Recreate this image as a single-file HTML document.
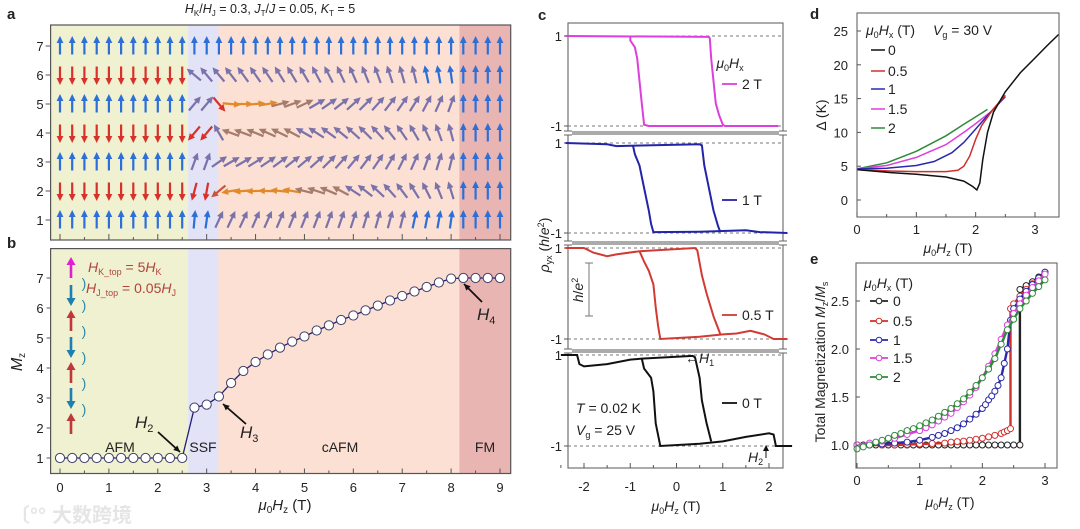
<!DOCTYPE html>
<html><head><meta charset="utf-8">
<style>
html,body{margin:0;padding:0;background:#fff;}
svg{display:block;font-family:"Liberation Sans","Noto Sans CJK SC",sans-serif;}
text{fill:#222;}
</style></head>
<body>
<svg id="fig" width="1080" height="529" viewBox="0 0 1080 529" xmlns="http://www.w3.org/2000/svg">
<rect x="0" y="0" width="1080" height="529" fill="#fff"/>
<g id="pa"></g>
<g id="pb"></g>
<g id="pc"></g>
<g id="pd"></g>
<g id="pe"></g>
<text x="270" y="13" font-size="12.5" text-anchor="middle"><tspan font-style="italic">H</tspan><tspan font-size="8" dy="3">K</tspan><tspan dy="-3">/</tspan><tspan font-style="italic">H</tspan><tspan font-size="8" dy="3">J</tspan><tspan dy="-3"> = 0.3, </tspan><tspan font-style="italic">J</tspan><tspan font-size="8" dy="3">T</tspan><tspan dy="-3">/</tspan><tspan font-style="italic">J</tspan><tspan> = 0.05, </tspan><tspan font-style="italic">K</tspan><tspan font-size="8" dy="3">T</tspan><tspan dy="-3"> = 5</tspan></text>
<text x="7" y="19" font-size="15" font-weight="bold">a</text>
<text x="7" y="248" font-size="15" font-weight="bold">b</text>
<text x="538" y="20" font-size="15" font-weight="bold">c</text>
<text x="810" y="19" font-size="15" font-weight="bold">d</text>
<text x="810" y="264" font-size="15" font-weight="bold">e</text>
<g opacity="0.55">
<text x="10" y="522" font-size="20" style="fill:#d0d0d0" font-weight="bold">〔°°</text>
<text x="52" y="522" font-size="20" style="fill:#d0d0d0" font-weight="bold">大数跨境</text>
</g>
</svg>
<script>
const NS="http://www.w3.org/2000/svg";
function mk(tag,parent,attrs){const e=document.createElementNS(NS,tag);for(const k in attrs)e.setAttribute(k,attrs[k]);parent.appendChild(e);return e;}
function lin(d0,d1,r0,r1){return v=>r0+(v-d0)*(r1-r0)/(d1-d0);}
function pathD(xs,ys,sx,sy){return xs.map((x,i)=>(i?'L':'M')+sx(x).toFixed(1)+' '+sy(ys[i]).toFixed(1)).join(' ');}
function txt(parent,x,y,s,size,anchor){const t=mk('text',parent,{x:x,y:y,'font-size':size||13,'text-anchor':anchor||'middle'});t.textContent=s;return t;}

const regionNames=['AFM','SSF','cAFM','FM'];
const regionStarts=[-0.2,2.62,3.24,8.17];
const regionEnds=[2.62,3.24,8.17,9.22];
const regionColors=['#eff1d0','#e2e3f6','#fbe0d3','#e9b5b2'];

const aFields=[0,0.25,0.5,0.75,1,1.25,1.5,1.75,2,2.25,2.5,2.75,3,3.25,3.5,3.75,4,4.25,4.5,4.75,5,5.25,5.5,5.75,6,6.25,6.5,6.75,7,7.25,7.5,7.75,8,8.25,8.5,8.75,9];
const aLayers=[1,2,3,4,5,6,7];
const angL1=[0,0,0,0,0,0,0,0,0,0,0,5,8,25,25,25,24,24,23,22,22,21,20,19,18,17,16,15,14,12,11,10,8,0,0,0,0];
const angL2=[180,180,180,180,180,180,180,180,180,180,180,-165,-170,-130,-100,-95,-92,-88,-84,-80,-76,-72,-67,-62,-57,-52,-47,-42,-37,-32,-27,-22,-17,0,0,0,0];
const angL3=[0,0,0,0,0,0,0,0,0,0,0,20,20,55,60,60,58,56,54,52,50,48,45,42,40,37,34,30,27,24,20,17,14,0,0,0,0];
const angL4=[180,180,180,180,180,180,180,180,180,180,180,-140,-140,-30,-70,-70,-68,-66,-64,-62,-60,-57,-54,-51,-48,-45,-42,-38,-34,-30,-25,-20,-15,0,0,0,0];
const angL5=[0,0,0,0,0,0,0,0,0,0,0,40,40,140,95,90,85,80,75,70,65,60,55,52,48,45,42,38,35,32,28,24,20,0,0,0,0];
const angL6=[180,180,180,180,180,180,180,180,180,180,180,-50,-40,-40,-38,-36,-35,-34,-32,-31,-30,-28,-27,-25,-24,-22,-20,-18,-16,-14,-12,-10,-8,0,0,0,0];
const angL7=[0,0,0,0,0,0,0,0,0,0,0,0,0,0,0,0,0,0,0,0,0,0,0,0,0,0,0,0,0,0,0,0,0,0,0,0,0];
const aAngles=[angL1,angL2,angL3,angL4,angL5,angL6,angL7];
const aYTicks=[1,2,3,4,5,6,7];

(function(){
const g=document.getElementById('pa');
const L=50.6,R=510.7,T=25,B=240;
const sx=lin(0,9,60,500), sy=lin(1,7,220,46);
for(let i=0;i<regionNames.length;i++){
  const r=mk('rect',g,{x:sx(regionStarts[i]),y:T,width:sx(regionEnds[i])-sx(regionStarts[i]),height:B-T,fill:regionColors[i]});
  
  
}
function col(a){const b=Math.abs(a);
  if(b<=12)return '#2d6fd8'; if(b>=135)return '#d8312b'; if(b>=78&&b<=112)return '#e28a2a';
  if(b>112)return '#c8553a'; if(b>=62)return '#a57b6c'; return '#7a72ab';}
aLayers.forEach((ly,li)=>{
  aFields.forEach((h,ci)=>{
    const a=aAngles[li][ci];
    const c=col(a);
    const ar=mk('g',g,{transform:`translate(${sx(h).toFixed(1)},${sy(ly).toFixed(1)}) rotate(${a})`});
    
    
    mk('line',ar,{x1:0,y1:8.5,x2:0,y2:-4,stroke:c,'stroke-width':2.2});
    mk('polygon',ar,{points:'-3.4,-3 3.4,-3 0,-10',fill:c});
  });
});
mk('rect',g,{x:L,y:T,width:R-L,height:B-T,fill:'none',stroke:'#555','stroke-width':1.2});
aYTicks.forEach(v=>{
  mk('line',g,{x1:L-5,x2:L,y1:sy(v),y2:sy(v),stroke:'#555'});
  const t=txt(g,40,sy(v)+5,String(v),13);
  
  
});
for(let v=0;v<=9;v+=0.5){mk('line',g,{x1:sx(v),x2:sx(v),y1:B,y2:B-(v%1===0?6:3),stroke:'#555'});}
})();

const bFields=[0,0.25,0.5,0.75,1,1.25,1.5,1.75,2,2.25,2.5,2.75,3,3.25,3.5,3.75,4,4.25,4.5,4.75,5,5.25,5.5,5.75,6,6.25,6.5,6.75,7,7.25,7.5,7.75,8,8.25,8.5,8.75,9];
const bMz=[1,1,1,1,1,1,1,1,1,1,1,2.68,2.78,3.05,3.5,3.9,4.2,4.45,4.68,4.88,5.05,5.25,5.42,5.6,5.75,5.92,6.08,6.25,6.4,6.55,6.7,6.85,6.98,7,7,7,7];
const bXTicks=[0,1,2,3,4,5,6,7,8,9];
const bYTicks=[1,2,3,4,5,6,7];
(function(){
const g=document.getElementById('pb');
const L=50.6,R=510.7,T=248.6,B=473.5;
const sx=lin(0,9,60,500), sy=lin(1,7,458,278);
for(let i=0;i<regionNames.length;i++){
  const r=mk('rect',g,{x:sx(regionStarts[i]),y:T,width:sx(regionEnds[i])-sx(regionStarts[i]),height:B-T,fill:regionColors[i]});
  
  
}
const stackY=[268,295,321,347,373,398,424];
const stackDir=[1,-1,1,-1,1,-1,1];
const stackCol=['#e020d0','#1f7fb0','#c0383a','#1f7fb0','#c0383a','#1f7fb0','#c0383a'];
stackY.forEach((y,i)=>{
  const a=mk('g',g,{transform:`translate(71,${y}) rotate(${stackDir[i]>0?0:180})`});
  
  
  mk('line',a,{x1:0,y1:10,x2:0,y2:-4,stroke:stackCol[i],'stroke-width':2.6});
  mk('polygon',a,{points:'-4.5,-3 4.5,-3 0,-11',fill:stackCol[i]});
});
[283,305,331,357,383,409].forEach(y=>{const t=txt(g,84,y+5,')',14,'middle');t.setAttribute('style','fill:#2a8aa8');});
const h1=mk('text',g,{x:88,y:272,'font-size':14});h1.setAttribute('style','fill:#b0443e');
h1.innerHTML='<tspan font-style="italic">H</tspan><tspan font-size="9" dy="3">K_top</tspan><tspan dy="-3"> = 5</tspan><tspan font-style="italic">H</tspan><tspan font-size="9" dy="3">K</tspan>';

const h2=mk('text',g,{x:86,y:293,'font-size':14});h2.setAttribute('style','fill:#b0443e');
h2.innerHTML='<tspan font-style="italic">H</tspan><tspan font-size="9" dy="3">J_top</tspan><tspan dy="-3"> = 0.05</tspan><tspan font-style="italic">H</tspan><tspan font-size="9" dy="3">J</tspan>';

const ln=mk('path',g,{d:pathD(bFields,bMz,sx,sy),fill:'none',stroke:'#20207a','stroke-width':1.3});


bFields.forEach((h,i)=>{
  const c=mk('circle',g,{cx:sx(h),cy:sy(bMz[i]),r:4.6,fill:'#fff',stroke:'#40406a','stroke-width':1});
  
  
});
[['AFM',120,452],['SSF',203,452],['cAFM',340,452],['FM',485,452]].forEach(p=>{const t=txt(g,p[1],p[2],p[0],14);});
function arrow(x1,y1,x2,y2){mk('line',g,{x1:x1,y1:y1,x2:x2,y2:y2,stroke:'#111','stroke-width':1.8});
  const a=Math.atan2(y2-y1,x2-x1),s=7;
  mk('polygon',g,{points:`${x2},${y2} ${x2-s*Math.cos(a-0.45)},${y2-s*Math.sin(a-0.45)} ${x2-s*Math.cos(a+0.45)},${y2-s*Math.sin(a+0.45)}`,fill:'#111'});}
function hlab(x,y,n){const t=mk('text',g,{x:x,y:y,'font-size':17});t.innerHTML='<tspan font-style="italic">H</tspan><tspan font-size="11" dy="4">'+n+'</tspan>';}
hlab(135,428,2);arrow(158,432,180,452);
hlab(240,438,3);arrow(246,424,223,404);
hlab(477,320,4);arrow(482,302,464,284);
mk('rect',g,{x:L,y:T,width:R-L,height:B-T,fill:'none',stroke:'#555','stroke-width':1.2});
bYTicks.forEach(v=>{mk('line',g,{x1:L-4,x2:L,y1:sy(v),y2:sy(v),stroke:'#555'});
  const t=txt(g,40,sy(v)+5,String(v),13);});
for(let v=0;v<=9;v+=0.5){mk('line',g,{x1:sx(v),x2:sx(v),y1:B,y2:B-(v%1===0?5:3),stroke:'#555'});}
bXTicks.forEach(v=>{const t=txt(g,sx(v),492,String(v),13);});
const xt=mk('text',g,{x:285,y:510,'font-size':15,'text-anchor':'middle'});
xt.innerHTML='<tspan font-style="italic">μ</tspan><tspan font-size="10" dy="3">0</tspan><tspan font-style="italic" dy="-3">H</tspan><tspan font-size="10" dy="3">z</tspan><tspan dy="-3"> (T)</tspan>';

const yt=mk('text',g,{x:0,y:0,'font-size':16,'text-anchor':'middle',transform:'translate(22,362) rotate(-90)'});
yt.innerHTML='<tspan font-style="italic">M</tspan><tspan font-size="10" dy="3">z</tspan>';

})();

const cXTicks=[-2,-1,0,1,2];
const cLabels=['2 T','1 T','0.5 T','0 T'];
const cColors=['#dd3fdd','#2424a8','#d23a34','#111111'];
const c2H_a=[-2.4,0.7,0.72,0.75,0.8,0.85,0.92,1.0,1.05,2.2];
const c2R_a=[1.0,0.98,0.95,0.5,0.0,-0.5,-0.75,-0.97,-1.0,-1.0];
const c2H_b=[-1.0,-1.0,-0.9,-0.85,-0.8,-0.75,-0.7,-0.6,1.0];
const c2R_b=[1.0,0.9,0.75,0.5,0.0,-0.5,-0.97,-1.0,-1.0];
const c1H_a=[-2.4,-1.5,-1.3,-1.0,0.5,0.55,0.6,0.7,0.8,0.9,0.95];
const c1R_a=[1.0,0.97,0.93,0.94,0.97,0.95,0.5,0.0,-0.5,-0.85,-0.98];
const c1H_b=[-0.94,-0.9,-0.8,-0.7,-0.6,-0.55,-0.5,0.5,1.5,1.8,2.4];
const c1R_b=[0.94,0.75,0.5,0.0,-0.5,-0.8,-0.98,-0.97,-0.94,-0.98,-1.0];
const c05H_a=[-2.4,-2.0,-1.8,-1.5,-1.3,-0.8,0.4,0.45,0.55,0.65,0.8,0.95];
const c05R_a=[1.0,1.0,0.9,0.82,0.86,0.93,1.0,0.95,0.4,0.0,-0.5,-0.9];
const c05H_b=[-0.8,-0.7,-0.6,-0.5,-0.45,-0.4,-0.35,0.5,1.0,1.3,1.6,1.9,2.1,2.4];
const c05R_b=[0.93,0.7,0.5,0.2,-0.3,-0.7,-1.0,-0.95,-0.9,-0.88,-0.82,-0.9,-1.0,-1.0];
const c0H_a=[-2.5,-2.15,-2.1,-2.0,-1.5,-1.0,-0.75,0.35,0.4,0.5,0.55,0.65,0.75];
const c0R_a=[1.0,1.0,0.8,0.75,0.8,0.9,0.92,0.98,0.95,0.5,0.0,-0.5,-0.9];
const c0H_b=[-0.75,-0.7,-0.55,-0.5,-0.45,-0.35,0.5,1.0,1.5,2.0,2.1,2.15,2.5];
const c0R_b=[0.92,0.7,0.5,0.2,-0.5,-1.0,-0.95,-0.9,-0.8,-0.72,-0.75,-1.0,-1.0];
const cH=[[c2H_a,c2H_b],[c1H_a,c1H_b],[c05H_a,c05H_b],[c0H_a,c0H_b]];
const cR=[[c2R_a,c2R_b],[c1R_a,c1R_b],[c05R_a,c05R_b],[c0R_a,c0R_b]];
(function(){
const g=document.getElementById('pc');
const L=568,R=783;
const sx=lin(-2,2,584,769);
const subs=[{t:23,b:132,p:36,m:126,ly:84},{t:134,b:242,p:143,m:233,ly:200},{t:244,b:350,p:248,m:339,ly:315},{t:352,b:468,p:355,m:446,ly:403}];
subs.forEach((s,i)=>{
  const sy=lin(-1,1,s.m,s.p);
  const box=mk('rect',g,{x:L,y:s.t,width:R-L,height:s.b-s.t,fill:'none',stroke:'#666','stroke-width':1.1});
  
  [1,-1].forEach(v=>{
    mk('line',g,{x1:L,x2:R,y1:sy(v),y2:sy(v),stroke:'#777','stroke-width':0.9,'stroke-dasharray':'3,3'});
    mk('line',g,{x1:L-4,x2:L,y1:sy(v),y2:sy(v),stroke:'#555'});
    const t=txt(g,L-6,sy(v)+5,v>0?'1':'-1',13,'end');
  });
  cH[i].forEach((hs,k)=>{
    const p=mk('path',g,{d:pathD(hs,cR[i][k],sx,sy),fill:'none',stroke:cColors[i],'stroke-width':2});
    
    
  });
  mk('line',g,{x1:722,x2:737,y1:s.ly,y2:s.ly,stroke:cColors[i],'stroke-width':1.8});
  const lt=txt(g,742,s.ly+5,cLabels[i],14,'start');
  
});
[133,243,351].forEach(y=>{[L,R].forEach(x=>{mk('rect',g,{x:x-4,y:y-1.5,width:8,height:3,fill:'#fff'});
  mk('line',g,{x1:x-4,x2:x+4,y1:y-2,y2:y-2,stroke:'#666'});mk('line',g,{x1:x-4,x2:x+4,y1:y+2,y2:y+2,stroke:'#666'});});});
const leg=mk('text',g,{x:730,y:68,'font-size':14,'text-anchor':'middle'});
leg.innerHTML='<tspan font-style="italic">μ</tspan><tspan font-size="9" dy="3">0</tspan><tspan font-style="italic" dy="-3">H</tspan><tspan font-size="9" dy="3">x</tspan>';

mk('line',g,{x1:589,x2:589,y1:263,y2:316,stroke:'#777'});
mk('line',g,{x1:585,x2:593,y1:263,y2:263,stroke:'#777'});
mk('line',g,{x1:585,x2:593,y1:316,y2:316,stroke:'#777'});
const sb=mk('text',g,{x:0,y:0,'font-size':14,'text-anchor':'middle',transform:'translate(583,290) rotate(-90)'});
sb.innerHTML='<tspan font-style="italic">h</tspan>/<tspan font-style="italic">e</tspan><tspan font-size="9" dy="-5">2</tspan>';

const h1=mk('text',g,{x:685,y:363,'font-size':14});h1.innerHTML='←<tspan font-style="italic">H</tspan><tspan font-size="9" dy="3">1</tspan>';

const h2=mk('text',g,{x:748,y:462,'font-size':14});h2.innerHTML='<tspan font-style="italic">H</tspan><tspan font-size="9" dy="3">2</tspan>';

mk('line',g,{x1:766,x2:766,y1:458,y2:447,stroke:'#111'});
mk('polygon',g,{points:'766,445 763,451 769,451',fill:'#111'});
const tt=mk('text',g,{x:576,y:413,'font-size':14});tt.innerHTML='<tspan font-style="italic">T</tspan> = 0.02 K';

const vg=mk('text',g,{x:576,y:435,'font-size':14});vg.innerHTML='<tspan font-style="italic">V</tspan><tspan font-size="9" dy="3">g</tspan><tspan dy="-3"> = 25 V</tspan>';

for(let v=-2.5;v<=2.3;v+=0.5){mk('line',g,{x1:sx(v),x2:sx(v),y1:468,y2:468-(v%1===0?5:3),stroke:'#555'});}
cXTicks.forEach(v=>{const t=txt(g,sx(v),491,String(v),13);});
const xt=mk('text',g,{x:676,y:511,'font-size':14,'text-anchor':'middle'});
xt.innerHTML='<tspan font-style="italic">μ</tspan><tspan font-size="9" dy="3">0</tspan><tspan font-style="italic" dy="-3">H</tspan><tspan font-size="9" dy="3">z</tspan><tspan dy="-3"> (T)</tspan>';

const yt=mk('text',g,{x:0,y:0,'font-size':14,'text-anchor':'middle',transform:'translate(549,245) rotate(-90)'});
yt.innerHTML='<tspan font-style="italic">ρ</tspan><tspan font-size="9" dy="3">yx</tspan><tspan dy="-3"> (</tspan><tspan font-style="italic">h</tspan>/<tspan font-style="italic">e</tspan><tspan font-size="9" dy="-5">2</tspan><tspan dy="5">)</tspan>';

})();

const dLabels=['0','0.5','1','1.5','2'];
const dColors=['#111111','#d0302c','#2a2aa8','#dd3fdd','#2f8a3a'];
const d0H=[0,0.5,1,1.5,1.8,1.95,2.02,2.07,2.12,2.2,2.3,2.5,2.75,3,3.2,3.4];
const d0V=[4.5,4.1,3.8,3.4,2.8,2.0,1.5,2.5,6,10,13,16,18.8,21,22.8,24.5];
const d05H=[0,0.5,1,1.5,1.7,1.8,1.9,2.0,2.1,2.3,2.5];
const d05V=[4.5,4.3,4.2,4.2,4.4,5,6.5,9,11,13.5,15.5];
const d1H=[0,0.5,1,1.3,1.6,1.8,2.0,2.2,2.5];
const d1V=[4.6,4.7,5.1,5.7,7,8.5,10.5,12.5,15.3];
const d15H=[0,0.5,1,1.5,1.8,2.0,2.25,2.5];
const d15V=[4.6,5.1,6.3,8.2,10,11.3,13,15.3];
const d2H=[0,0.5,1,1.5,1.8,2.0,2.2];
const d2V=[4.6,5.5,7.2,9.5,11.2,12.3,13.4];
const dXs=[d0H,d05H,d1H,d15H,d2H];
const dYs=[d0V,d05V,d1V,d15V,d2V];
const dXTicks=[0,1,2,3];
const dYTicks=[0,5,10,15,20,25];
(function(){
const g=document.getElementById('pd');
const L=857,R=1059,T=13,B=217;
const sx=lin(0,3,857,1035), sy=lin(0,25,200,31);
for(let i=dXs.length-1;i>=0;i--){
  const p=mk('path',g,{d:pathD(dXs[i],dYs[i],sx,sy),fill:'none',stroke:dColors[i],'stroke-width':1.5});
  
  
}
mk('rect',g,{x:L,y:T,width:R-L,height:B-T,fill:'none',stroke:'#666','stroke-width':1.1});
const leg=mk('text',g,{x:866,y:35,'font-size':14});
leg.innerHTML='<tspan font-style="italic">μ</tspan><tspan font-size="9" dy="3">0</tspan><tspan font-style="italic" dy="-3">H</tspan><tspan font-size="9" dy="3">x</tspan><tspan dy="-3"> (T)</tspan>';

const vg=mk('text',g,{x:933,y:35,'font-size':14});vg.innerHTML='<tspan font-style="italic">V</tspan><tspan font-size="9" dy="3">g</tspan><tspan dy="-3"> = 30 V</tspan>';

const ly=[50,71,89,109,128];
dLabels.forEach((l,i)=>{mk('line',g,{x1:871,x2:885,y1:ly[i],y2:ly[i],stroke:dColors[i],'stroke-width':1.5});
  const t=txt(g,888,ly[i]+5,l,14,'start');});
dYTicks.forEach(v=>{mk('line',g,{x1:L,x2:L+4,y1:sy(v),y2:sy(v),stroke:'#555'});
  const t=txt(g,848,sy(v)+5,String(v),13,'end');});
for(let v=0;v<=3.4;v+=0.5){mk('line',g,{x1:sx(v),x2:sx(v),y1:B,y2:B-(v%1===0?5:3),stroke:'#555'});}
dXTicks.forEach(v=>{const t=txt(g,sx(v),234,String(v),13);});
const xt=mk('text',g,{x:948,y:253,'font-size':14,'text-anchor':'middle'});
xt.innerHTML='<tspan font-style="italic">μ</tspan><tspan font-size="9" dy="3">0</tspan><tspan font-style="italic" dy="-3">H</tspan><tspan font-size="9" dy="3">z</tspan><tspan dy="-3"> (T)</tspan>';

const yt=mk('text',g,{x:0,y:0,'font-size':14,'text-anchor':'middle',transform:'translate(826,115) rotate(-90)'});
yt.textContent='Δ (K)';

})();

const eLabels=['0','0.5','1','1.5','2'];
const eColors=['#222222','#d0302c','#2a2aa8','#dd3fdd','#2f8a3a'];
const e0H=[0,0.1,0.2,0.3,0.4,0.5,0.6,0.7,0.8,0.9,1.0,1.1,1.2,1.3,1.4,1.5,1.6,1.7,1.8,1.9,2.0,2.1,2.2,2.3,2.4,2.5,2.6,2.6,2.7,2.8,2.9,3.0];
const e0M=[1,1,1,1,1,1,1,1,1,1,1,1,1,1,1,1,1,1,1,1,1,1,1,1,1,1,1,2.62,2.66,2.7,2.75,2.8];
const e05H=[0,0.2,0.4,0.6,0.8,1.0,1.2,1.4,1.5,1.6,1.7,1.8,1.9,2.0,2.1,2.2,2.3,2.35,2.4,2.45,2.45,2.5,2.6,2.7,2.8,2.9,3.0];
const e05M=[1,1,1,1,1.005,1.01,1.015,1.02,1.03,1.035,1.04,1.05,1.06,1.07,1.085,1.1,1.12,1.135,1.15,1.17,2.42,2.47,2.55,2.62,2.68,2.74,2.8];
const e1H=[0,0.2,0.4,0.6,0.8,1.0,1.2,1.3,1.4,1.5,1.6,1.7,1.8,1.9,2.0,2.05,2.1,2.15,2.2,2.25,2.3,2.35,2.4,2.45,2.5,2.6,2.7,2.8,2.9,3.0];
const e1M=[1,1,1.01,1.02,1.03,1.05,1.08,1.1,1.12,1.15,1.18,1.22,1.27,1.32,1.38,1.42,1.47,1.51,1.56,1.62,1.7,1.85,2.0,2.3,2.42,2.52,2.6,2.67,2.74,2.8];
const e15H=[0,0.2,0.4,0.6,0.8,1.0,1.1,1.2,1.3,1.4,1.5,1.6,1.7,1.8,1.9,2.0,2.1,2.2,2.3,2.4,2.5,2.6,2.7,2.8,2.9,3.0];
const e15M=[1,1.02,1.04,1.07,1.11,1.15,1.18,1.21,1.25,1.29,1.33,1.39,1.45,1.52,1.6,1.7,1.82,1.95,2.1,2.25,2.37,2.47,2.56,2.64,2.71,2.78];
const e2H=[0,0.1,0.2,0.3,0.4,0.5,0.6,0.7,0.8,0.9,1.0,1.1,1.2,1.3,1.4,1.5,1.6,1.7,1.8,1.9,2.0,2.1,2.2,2.3,2.4,2.5,2.6,2.7,2.8,2.9,3.0];
const e2M=[0.96,0.98,1.0,1.03,1.05,1.07,1.1,1.12,1.15,1.17,1.2,1.23,1.26,1.3,1.34,1.38,1.43,1.48,1.55,1.62,1.7,1.79,1.9,2.05,2.2,2.31,2.42,2.5,2.58,2.65,2.72];
const eXs=[e0H,e05H,e1H,e15H,e2H];
const eYs=[e0M,e05M,e1M,e15M,e2M];
const eXTicks=[0,1,2,3];
const eYTicks=[1.0,1.5,2.0,2.5];
(function(){
const g=document.getElementById('pe');
const L=856,R=1057,T=263,B=468;
const sx=lin(0,3,857,1045), sy=lin(1,2.5,445,301);
for(let i=0;i<eXs.length;i++){
  const p=mk('path',g,{d:pathD(eXs[i],eYs[i],sx,sy),fill:'none',stroke:eColors[i],'stroke-width':2.4});
  
  
  eXs[i].forEach((h,k)=>{
    const c=mk('circle',g,{cx:sx(h),cy:sy(eYs[i][k]),r:3,fill:'#fff',stroke:eColors[i],'stroke-width':1});
    
    
  });
}
mk('rect',g,{x:L,y:T,width:R-L,height:B-T,fill:'none',stroke:'#666','stroke-width':1.1});
const leg=mk('text',g,{x:864,y:288,'font-size':14});
leg.innerHTML='<tspan font-style="italic">μ</tspan><tspan font-size="9" dy="3">0</tspan><tspan font-style="italic" dy="-3">H</tspan><tspan font-size="9" dy="3">x</tspan><tspan dy="-3"> (T)</tspan>';

const ly=[301,321,340,358,377];
eLabels.forEach((l,i)=>{mk('line',g,{x1:870,x2:888,y1:ly[i],y2:ly[i],stroke:eColors[i],'stroke-width':1.8});
  mk('circle',g,{cx:879,cy:ly[i],r:2.8,fill:'#fff',stroke:eColors[i]});
  const t=txt(g,893,ly[i]+5,l,14,'start');});
eYTicks.forEach(v=>{mk('line',g,{x1:L,x2:L+4,y1:sy(v),y2:sy(v),stroke:'#555'});
  const t=txt(g,849,sy(v)+5,v.toFixed(1),13,'end');});
for(let v=0;v<=3.2;v+=0.5){mk('line',g,{x1:sx(v),x2:sx(v),y1:B,y2:B-(v%1===0?5:3),stroke:'#555'});}
eXTicks.forEach(v=>{const t=txt(g,sx(v),485,String(v),13);});
const xt=mk('text',g,{x:950,y:507,'font-size':14,'text-anchor':'middle'});
xt.innerHTML='<tspan font-style="italic">μ</tspan><tspan font-size="9" dy="3">0</tspan><tspan font-style="italic" dy="-3">H</tspan><tspan font-size="9" dy="3">z</tspan><tspan dy="-3"> (T)</tspan>';

const yt=mk('text',g,{x:0,y:0,'font-size':14,'text-anchor':'middle',transform:'translate(825,362) rotate(-90)'});
yt.innerHTML='Total Magnetization  <tspan font-style="italic">M</tspan><tspan font-size="9" dy="3">z</tspan><tspan dy="-3">/</tspan><tspan font-style="italic">M</tspan><tspan font-size="9" dy="3">s</tspan>';

})();
</script>
</body></html>
